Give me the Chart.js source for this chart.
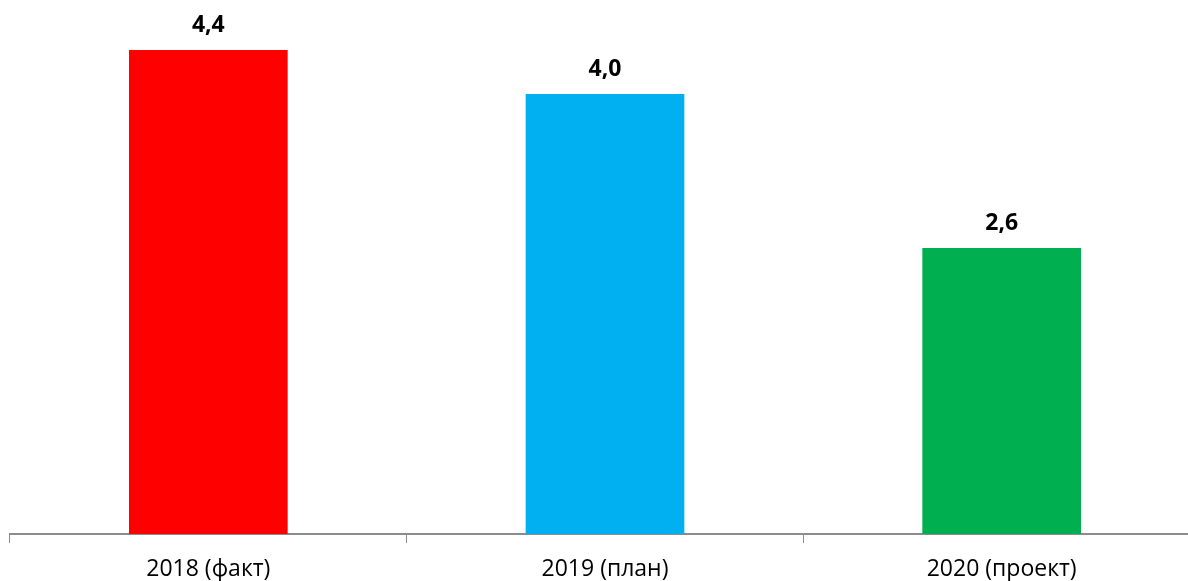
<!DOCTYPE html>
<html>
<head>
<meta charset="utf-8">
<script src="https://cdn.jsdelivr.net/npm/chart.js@4"></script>
<style>
  html, body { margin: 0; padding: 0; background: #fff; overflow: hidden; }
  #wrap { width: 1200px; height: 581px; position: relative; }
</style>
</head>
<body>
<div id="wrap"><canvas id="chart"></canvas></div>
<script>
const categories = ['2018 (факт)', '2019 (план)', '2020 (проект)'];
const values = [4.4, 4.0, 2.6];
const barColors = ['#ff0000', '#00b0f0', '#00b050'];

// value labels above bars, comma as decimal separator
const valueLabels = {
    id: 'valueLabels',
    afterDatasetsDraw(chart) {
        const ctx = chart.ctx;
        const meta = chart.getDatasetMeta(0);
        ctx.save();
        ctx.font = 'bold 23px "Open Sans"';
        ctx.fillStyle = '#000';
        ctx.textAlign = 'center';
        ctx.textBaseline = 'alphabetic';
        meta.data.forEach((bar, i) => {
            const txt = values[i].toFixed(1).replace('.', ',');
            ctx.fillText(txt, bar.x, bar.y - 18);
        });
        ctx.restore();
    }
};

new Chart(document.getElementById('chart'), {
    type: 'bar',
    data: {
        labels: categories,
        datasets: [{
            data: values,
            backgroundColor: barColors,
            categoryPercentage: 1,
            barPercentage: 0.4
        }]
    },
    options: {
        responsive: true,
        maintainAspectRatio: false,
        animation: false,
        layout: { padding: { left: 10, right: 0, top: 0, bottom: 0 } },
        plugins: {
            legend: { display: false },
            tooltip: { enabled: false }
        },
        scales: {
            x: {
                offset: true,
                afterFit(scale) { scale.height = 47; },
                grid: {
                    drawOnChartArea: false,
                    drawTicks: true,
                    tickLength: 9,
                    color: '#8c8c8c',
                    lineWidth: 1
                },
                border: { color: '#8c8c8c', width: 2 },
                ticks: {
                    color: '#000',
                    padding: 13,
                    font: { family: '"Open Sans"', size: 23 }
                }
            },
            y: {
                display: false,
                min: 0,
                max: 4.8545
            }
        }
    },
    plugins: [valueLabels]
});
</script>
</body>
</html>
